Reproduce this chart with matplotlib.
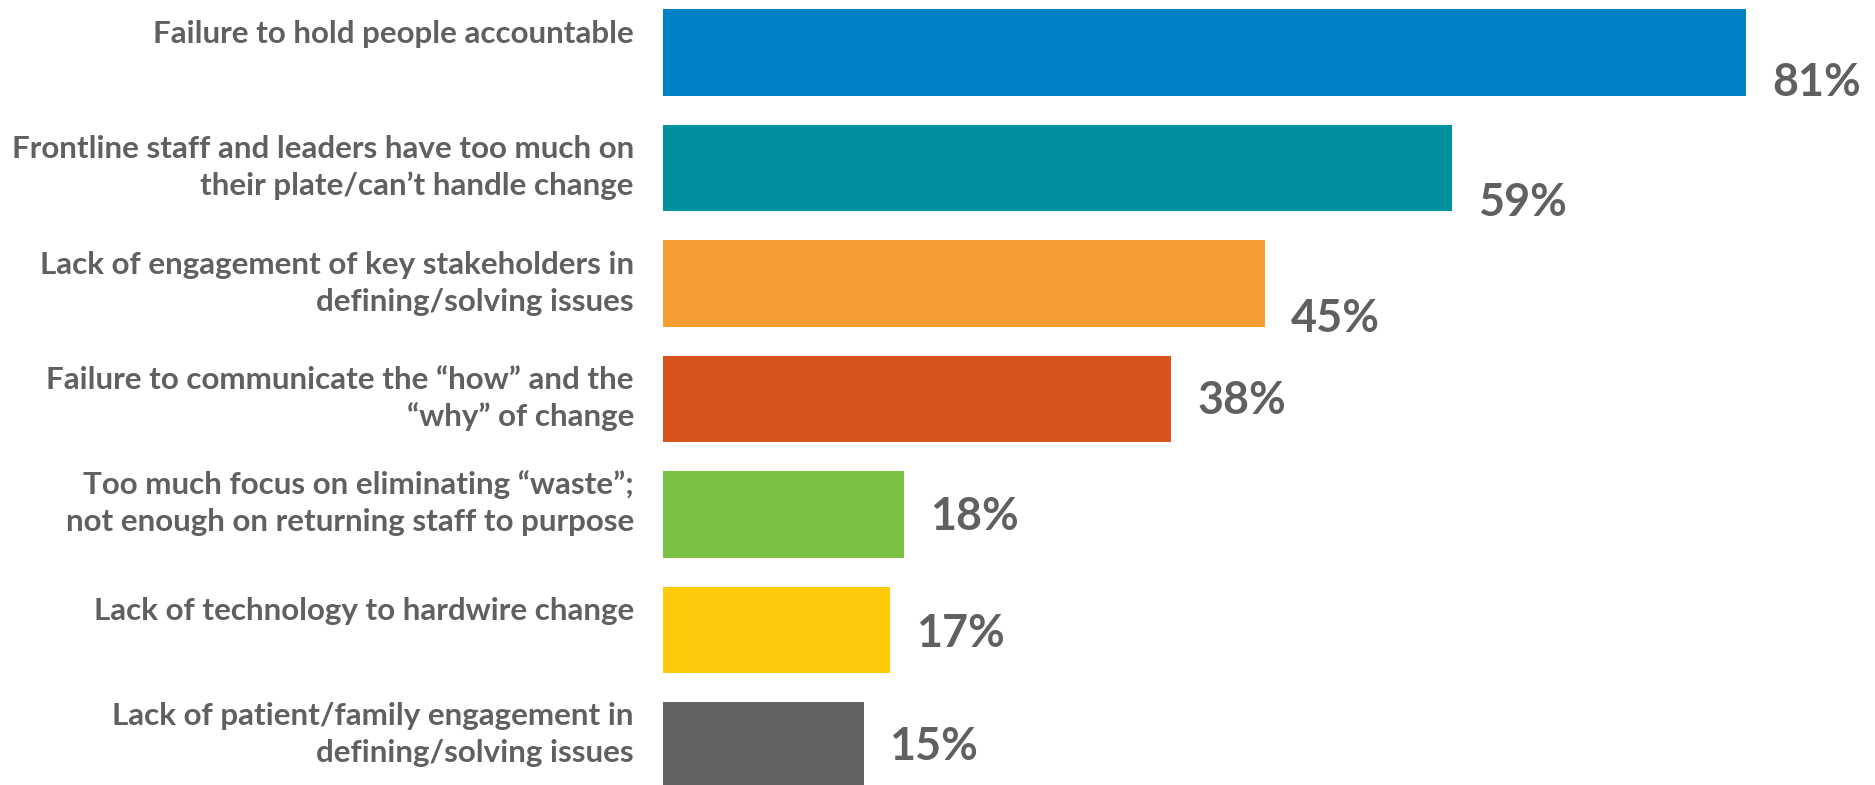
import matplotlib
matplotlib.use("Agg")
import matplotlib.pyplot as plt

# Survey responses: barriers to sustaining change
categories = [
    "Failure to hold people accountable",
    "Frontline staff and leaders have too much on\ntheir plate/can\u2019t handle change",
    "Lack of engagement of key stakeholders in\ndefining/solving issues",
    "Failure to communicate the \u201chow\u201d and the\n\u201cwhy\u201d of change",
    "Too much focus on eliminating \u201cwaste\u201d;\nnot enough on returning staff to purpose",
    "Lack of technology to hardwire change",
    "Lack of patient/family engagement in\ndefining/solving issues",
]
values = [81, 59, 45, 38, 18, 17, 15]
value_labels = ["81%", "59%", "45%", "38%", "18%", "17%", "15%"]
bar_colors = ["#0080C6", "#00909E", "#F79E33", "#D9531E", "#7BC143", "#FDCB0A", "#636365"]

# Layout (pixel units on a 1875 x 785 canvas)
W, H = 1875, 785
PX_PER_PCT = 13.37
BAR_LEFT = 663
PITCH = 115.5
FIRST_CENTER = 52.25
BAR_FRAC = 86.5 / 115.5
LINE_GAP = 37.4
TEXT_GREY = "#606062"
cat_shift = [0, 0, 0, 0, -11, 0, -10.5]
val_shift = [27, 31, 32, -2, -1, 0, -2]

FONT = "Lato"

fig = plt.figure(figsize=(W / 100, H / 100), dpi=100)
renderer = fig.canvas.get_renderer()


def fit_size(text, target_px, base=20):
    t = fig.text(0, 0, text, fontsize=base, family=FONT, weight="bold")
    w = t.get_window_extent(renderer).width
    t.remove()
    return base * target_px / w


cat_size = fit_size("Failure to hold people accountable", 482)
val_size = fit_size("81%", 89)

xmax = 90
ax = fig.add_axes([BAR_LEFT / W, 0, xmax * PX_PER_PCT / W, 1])
ax.set_xlim(0, xmax)
ax.set_ylim((H - FIRST_CENTER) / PITCH, -FIRST_CENTER / PITCH)
ax.axis("off")

ypos = list(range(len(values)))
ax.barh(ypos, values, height=BAR_FRAC, color=bar_colors, left=0)

dx = lambda px: px / PX_PER_PCT
dy = lambda px: px / PITCH

for i, (cat, v, lab) in enumerate(zip(categories, values, value_labels)):
    lines = cat.split("\n")
    base = i + dy(-9.7 + cat_shift[i])
    for k, line in enumerate(lines):
        ax.text(dx(-29), base + k * dy(LINE_GAP), line, ha="right", va="baseline",
                fontsize=cat_size, family=FONT, weight="bold", color=TEXT_GREY,
                clip_on=False)
    ax.text(v + dx(26), i + dy(val_shift[i] + 17), lab, ha="left", va="baseline",
            fontsize=val_size, family=FONT, weight="bold", color=TEXT_GREY,
            clip_on=False)

fig.savefig("out.png", dpi=100, facecolor="white")
